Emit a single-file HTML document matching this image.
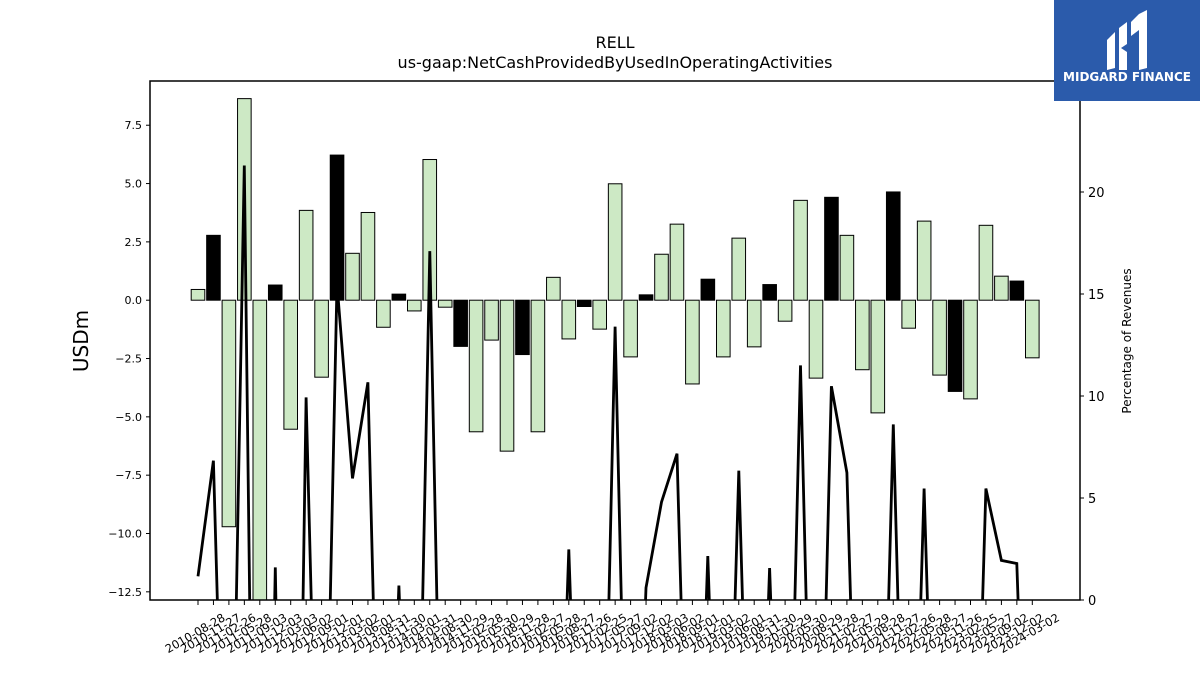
<!DOCTYPE html>
<html><head><meta charset="utf-8"><style>
body{margin:0;background:#fff;font-family:"Liberation Sans","DejaVu Sans",sans-serif;overflow:hidden;}
</style></head><body>
<svg id="chart" width="1200" height="675" xmlns="http://www.w3.org/2000/svg" style="display:block;font-family:'DejaVu Sans','Liberation Sans',sans-serif">
<rect width="1200" height="675" fill="#fff"/>
<text x="615" y="48" text-anchor="middle" font-size="16">RELL</text>
<text x="615" y="68" text-anchor="middle" font-size="16">us-gaap:NetCashProvidedByUsedInOperatingActivities</text>
<text transform="translate(88,341) rotate(-90)" text-anchor="middle" font-size="20">USDm</text>
<text transform="translate(1131,341) rotate(-90)" text-anchor="middle" font-size="12">Percentage of Revenues</text>
<defs><clipPath id="pc"><rect x="150" y="81" width="930" height="519"/></clipPath></defs>
<g id="bars" clip-path="url(#pc)"></g>
<g id="line" clip-path="url(#pc)"></g>
<rect x="150" y="81" width="930" height="519" fill="none" stroke="#000" stroke-width="1.5"/>
<g id="axes"></g>
<g>
<rect x="1054" y="0" width="146" height="101" fill="#2b5bab"/>
<path d="M1107 40 L1115 32 L1115 68 L1107 70 Z M1119 28 L1127 22 L1127 44 L1121 48 L1127 52 L1127 70 L1119 70 Z M1131 22 L1139 14 L1147 10 L1147 68 L1139 70 L1139 30 L1131 36 Z" fill="#fff"/>
<text x="1127" y="81" text-anchor="middle" font-size="12" font-weight="bold" fill="#fff">MIDGARD FINANCE</text>
</g>
</svg>
<script>
const categories=["2010-08-28","2010-11-27","2011-02-26","2011-05-28","2011-09-03","2011-12-03","2012-03-03","2012-06-02","2012-09-01","2012-12-01","2013-03-02","2013-06-01","2013-08-31","2013-11-30","2014-03-01","2014-05-31","2014-08-30","2014-11-29","2015-02-28","2015-05-30","2015-08-29","2015-11-28","2016-02-27","2016-05-28","2016-08-27","2016-11-26","2017-02-25","2017-05-27","2017-09-02","2017-12-02","2018-03-03","2018-06-02","2018-09-01","2018-12-01","2019-03-02","2019-06-01","2019-08-31","2019-11-30","2020-02-29","2020-05-30","2020-08-29","2020-11-28","2021-02-27","2021-05-29","2021-08-28","2021-11-27","2022-02-26","2022-05-28","2022-08-27","2022-11-26","2023-02-25","2023-05-27","2023-09-02","2023-12-02","2024-03-02"];
const cashFlow=[0.46,2.78,-9.71,8.64,-14,0.65,-5.53,3.85,-3.30,6.22,2.01,3.76,-1.16,0.26,-0.46,6.03,-0.30,-1.98,-5.64,-1.71,-6.47,-2.33,-5.64,0.98,-1.66,-0.27,-1.24,4.99,-2.43,0.23,1.97,3.26,-3.59,0.90,-2.43,2.66,-2.00,0.67,-0.90,4.28,-3.34,4.41,2.78,-2.98,-4.83,4.64,-1.20,3.39,-3.21,-3.91,-4.23,3.21,1.03,0.82,-2.47];
const pctRevenue=[1.16,6.83,-20,21.3,-40,1.6,-40,9.93,-20,15.5,5.96,10.67,-20,0.71,-20,17.1,-20,-20,-20,-20,-20,-20,-20,-20,2.48,-20,-20,13.4,-20,0.6,4.8,7.17,-20,2.15,-20,6.34,-20,1.57,-20,11.5,-20,10.48,6.24,-20,-20,8.61,-20,5.46,-20,-20,-20,5.46,1.94,1.79,-20];
const yTicks=[7.5,5.0,2.5,0.0,-2.5,-5.0,-7.5,-10.0,-12.5];
const y2Ticks=[0,5,10,15,20];
const NS="http://www.w3.org/2000/svg";
const X0=198,DX=(1032.3-198)/(categories.length-1);
const xs=i=>X0+i*DX;
const ys=v=>300.2-v*23.33;
const y2s=v=>600-v*20.4;
function mk(t,a,p){const e=document.createElementNS(NS,t);for(const k in a)e.setAttribute(k,a[k]);p.appendChild(e);return e;}
const bars=document.getElementById('bars'),line=document.getElementById('line'),axes=document.getElementById('axes');
cashFlow.forEach((v,i)=>{
 const black=(i%4===1);
 const y=Math.min(ys(v),ys(0)),h=Math.abs(ys(v)-ys(0));
 const r=mk('rect',{x:xs(i)-6.8,y:y,width:13.6,height:h,fill:black?'#000':'#cde9c5',stroke:'#000','stroke-width':1},bars);
 
 
});
const pts=pctRevenue.map((v,i)=>xs(i).toFixed(1)+','+y2s(v).toFixed(1)).join(' ');
const pl=mk('polyline',{points:pts,fill:'none',stroke:'#000','stroke-width':2.8,'stroke-linejoin':'miter'},line);


yTicks.forEach(v=>{
 const y=ys(v);
 mk('line',{x1:146,x2:150,y1:y,y2:y,stroke:'#000'},axes);
 const t=mk('text',{x:142,y:y+4,'text-anchor':'end','font-size':11},axes);
 t.textContent=(v<0?'\u2212':'')+Math.abs(v).toFixed(1);
 
 
});
y2Ticks.forEach(v=>{
 const y=y2s(v);
 mk('line',{x1:1080,x2:1084,y1:y,y2:y,stroke:'#000'},axes);
 const t=mk('text',{x:1088,y:y+5,'font-size':13},axes);
 t.textContent=String(v);
 
 
});
categories.forEach((c,i)=>{
 const x=xs(i);
 mk('line',{x1:x,x2:x,y1:600,y2:605,stroke:'#000'},axes);
 const t=mk('text',{transform:`translate(${x+28},620) rotate(-30)`,'text-anchor':'end','font-size':11.5},axes);
 t.textContent=c;
 
 
});
</script>
</body></html>
